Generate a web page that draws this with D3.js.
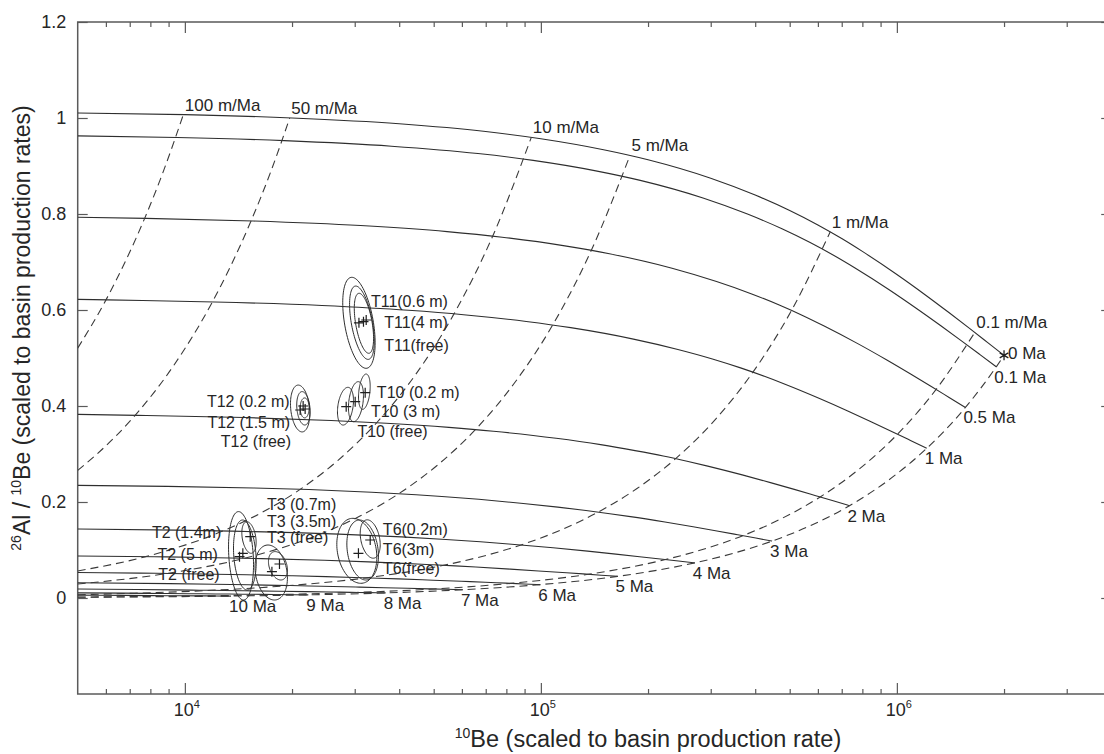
<!DOCTYPE html>
<html>
<head>
<meta charset="utf-8">
<script src="https://cdn.jsdelivr.net/npm/d3@7"></script>
<style>
  body { margin: 0; background: #fff; }
  svg text { font-family: "Liberation Sans", Arial, Helvetica, sans-serif; fill: #262626; }
</style>
</head>
<body>
<svg id="chart" width="1104" height="754"></svg>
<script>
// ---- axis ticks ----
const xMajorTicks = [1e4, 1e5, 1e6];
const xMajorExp = ["4", "5", "6"];
const xMinorTicks = [6e3, 7e3, 8e3, 9e3, 2e4, 3e4, 4e4, 5e4, 6e4, 7e4, 8e4, 9e4,
                     2e5, 3e5, 4e5, 5e5, 6e5, 7e5, 8e5, 9e5, 2e6, 3e6];
const yTicks = [0, 0.2, 0.4, 0.6, 0.8, 1, 1.2];
const yTickLabels = ["0", "0.2", "0.4", "0.6", "0.8", "1", "1.2"];

// ---- burial isochrons: [10Be, 26Al/10Be] ----
const isoLabels = ["0 Ma", "0.1 Ma", "0.5 Ma", "1 Ma", "2 Ma", "3 Ma", "4 Ma", "5 Ma", "6 Ma", "7 Ma", "8 Ma", "9 Ma", "10 Ma"];
const iso0 = [[5000,1.0105],[10000,1.007],[20000,1.000],[40000,0.988],[70000,0.9718],[100000,0.9569],[150000,0.934],[200000,0.9131],[300000,0.8746],[400000,0.8395],[500000,0.8073],[600000,0.7772],[700000,0.7489],[800000,0.7221],[1000000,0.674],[1200000,0.6319],[1400000,0.5947],[1600000,0.5617],[1800000,0.5321],[2000000,0.5055]];
const iso01 = [[5000,0.9627],[9512,0.9595],[19020,0.9528],[38050,0.9413],[66580,0.9259],[95120,0.9117],[142700,0.8899],[190200,0.870],[285400,0.8333],[380500,0.7998],[475600,0.7692],[570700,0.7405],[665800,0.7135],[761000,0.688],[951200,0.6422],[1141000,0.6021],[1332000,0.5666],[1522000,0.5352],[1712000,0.507],[1902000,0.4816]];
const iso05 = [[5000,0.7931],[7788,0.7909],[15580,0.7854],[31150,0.7759],[54520,0.7633],[77880,0.7516],[116800,0.7336],[155800,0.7172],[233600,0.687],[311500,0.6593],[389400,0.634],[467300,0.6104],[545200,0.5882],[623000,0.5671],[778800,0.5294],[934600,0.4963],[1090000,0.4671],[1246000,0.4412],[1402000,0.4179],[1558000,0.397]];
const iso1 = [[5000,0.6222],[6065,0.6211],[12130,0.6168],[24260,0.6094],[42460,0.5994],[60650,0.5902],[90980,0.5761],[121300,0.5632],[182000,0.5394],[242600,0.5178],[303300,0.498],[363900,0.4794],[424600,0.4619],[485200,0.4454],[606500,0.4157],[727800,0.3898],[849100,0.3668],[970400,0.3465],[1092000,0.3282],[1213000,0.3118]];
const iso2 = [[5000,0.3825],[7358,0.3805],[14720,0.376],[25750,0.3698],[36790,0.3641],[55180,0.3554],[73580,0.3474],[110400,0.3328],[147200,0.3195],[183900,0.3071],[220700,0.2959],[257500,0.285],[294300,0.2748],[367900,0.2565],[441500,0.2404],[515100,0.2263],[588600,0.2137],[662200,0.2025],[735800,0.1923]];
const iso3 = [[5000,0.2347],[8924,0.2326],[15620,0.2293],[22310,0.226],[33470,0.2204],[44620,0.2152],[66940,0.2056],[89240,0.197],[111600,0.1893],[133900,0.1822],[156200,0.1756],[178500,0.1695],[223100,0.1582],[267700,0.1483],[312300,0.1396],[357000,0.1318],[401600,0.1249],[446200,0.1186]];
const iso4 = [[5000,0.1437],[9471,0.1414],[13530,0.1394],[20300,0.1362],[27060,0.1331],[40590,0.1273],[54120,0.122],[67650,0.1171],[81180,0.1126],[94710,0.1084],[108200,0.1046],[135300,0.0976],[162400,0.0915],[189400,0.0861],[216500,0.0813],[243500,0.077],[270600,0.0732]];
const iso5 = [[5000,0.0876],[8209,0.086],[12310,0.084],[16420,0.0821],[24630,0.0785],[32840,0.0752],[41050,0.0722],[49250,0.0694],[57460,0.0669],[65670,0.0645],[82090,0.0602],[98510,0.0564],[114900,0.0531],[131300,0.0502],[147800,0.0475],[164200,0.0451]];
const iso6 = [[5000,0.053],[7469,0.0518],[9958,0.0506],[14940,0.0484],[19920,0.0464],[24900,0.0446],[29870,0.0428],[34850,0.0413],[39830,0.0398],[49790,0.0371],[59750,0.0348],[69710,0.0328],[79660,0.0309],[89620,0.0293],[99580,0.0279]];
const iso7 = [[5000,0.0317],[9060,0.0299],[12080,0.0286],[15100,0.0275],[18120,0.0264],[21140,0.0255],[24160,0.0246],[30200,0.0229],[36240,0.0215],[42280,0.0202],[48320,0.0191],[54360,0.0181],[60400,0.0172]];
const iso8 = [[5000,0.0187],[7328,0.0177],[9160,0.017],[10990,0.0163],[12820,0.0157],[14660,0.0152],[18320,0.0142],[21980,0.0133],[25650,0.0125],[29310,0.0118],[32980,0.0112],[36640,0.0106]];
const iso9 = [[5000,0.0107],[6666,0.0101],[7777,0.0097],[8888,0.0093],[11110,0.0087],[13330,0.0082],[15550,0.0077],[17780,0.0073],[20000,0.0069],[22220,0.0065]];
const iso10 = [[5000,0.0059],[6738,0.0054],[8086,0.005],[9433,0.0047],[10780,0.0045],[12130,0.0042],[13480,0.004]];
const isochrons = [iso0, iso01, iso05, iso1, iso2, iso3, iso4, iso5, iso6, iso7, iso8, iso9, iso10];

// ---- burial paths at constant pre-burial erosion rate ----
const erosionLabels = ["100 m/Ma", "50 m/Ma", "10 m/Ma", "5 m/Ma", "1 m/Ma", "0.1 m/Ma", ""];
const ero100 = [[9900,1.007],[8737,0.8924],[7710,0.7909],[6804,0.701],[6004,0.6211],[5000,0.5205]];
const ero50 = [[19700,1.000],[17390,0.8862],[15340,0.7854],[13540,0.6961],[11950,0.6168],[9306,0.4845],[7248,0.3805],[5644,0.2989],[5000,0.2659]];
const ero10 = [[94000,0.9596],[73210,0.7537],[57010,0.5919],[44410,0.4649],[34580,0.3651],[26930,0.2868],[20970,0.2252],[16340,0.177],[12720,0.1389],[7716,0.0857],[5000,0.0564]];
const ero5 = [[178000,0.9222],[138600,0.7243],[107960,0.5688],[84090,0.4468],[65490,0.3509],[51000,0.2756],[39710,0.2164],[30940,0.1701],[24080,0.1335],[14610,0.0823],[8863,0.0509],[5000,0.0292]];
const ero1 = [[650000,0.763],[506200,0.5993],[394200,0.4706],[307100,0.3697],[239100,0.2903],[186200,0.2281],[145000,0.1791],[113000,0.1407],[87950,0.1105],[53360,0.0681],[32360,0.042],[19630,0.0259],[11910,0.016],[7222,0.0099],[5000,0.0069]];
const ero01 = [[1655000,0.5532],[1289000,0.4345],[1004000,0.3412],[781800,0.268],[608900,0.2105],[474200,0.1654],[369200,0.1298],[287600,0.102],[223900,0.0801],[135900,0.0494],[82400,0.0305],[49980,0.0188],[30320,0.0116],[18390,0.0072],[11150,0.0044],[5000,0.002]];
const ero0 = [[2000000,0.5055],[1902000,0.4816],[1558000,0.397],[1213000,0.3118],[944800,0.2449],[735800,0.1923],[573000,0.1511],[446200,0.1186],[347600,0.0932],[270600,0.0732],[164200,0.0451],[99580,0.0279],[60400,0.0172],[36640,0.0106],[22220,0.0065],[13480,0.004],[5000,0.0015]];
const erosionPaths = [ero100, ero50, ero10, ero5, ero1, ero01, ero0];

// ---- samples: measured points [10Be, ratio] ----
const samplePoints = [
  [30830,0.5733],[31750,0.5756],[32310,0.5792],          // T11
  [28390,0.3985],[30090,0.409],[32100,0.4277],           // T10
  [21080,0.3917],[21490,0.400],[21770,0.3938],           // T12
  [14240,0.086],[14550,0.0931],[15260,0.1277],           // T2
  [17560,0.0548],[18440,0.0708],                         // T3
  [30730,0.0931],[33160,0.1208]                          // T6
];
// error ellipses: [10Be, ratio, log10 error, ratio error, correlation]
const sampleEllipses = [
  [30830,0.5733,0.0455,0.0948,-0.44],[31430,0.5735,0.0347,0.0764,-0.5],[31840,0.5723,0.0271,0.0625,-0.5],
  [28260,0.3996,0.0225,0.0393,0.3],[30240,0.409,0.0211,0.0417,0.3],[31930,0.4298,0.0164,0.0368,0.3],
  [21080,0.3948,0.0272,0.0488,-0.2],[21530,0.3952,0.0188,0.0348,-0.2],[21700,0.396,0.0126,0.0208,0],
  [14380,0.0879,0.0351,0.0921,-0.2],[14740,0.0896,0.0319,0.0729,-0.2],[15140,0.126,0.0201,0.0329,-0.3],
  [17480,0.0531,0.0455,0.0573,-0.2],[18260,0.0671,0.0267,0.0296,-0.3],
  [30410,0.0983,0.0562,0.0677,-0.2],[31580,0.100,0.0444,0.0625,-0.2],[33160,0.1229,0.0281,0.040,-0.3]
];
const sampleLabels = ["T11(0.6 m)", "T11(4 m)", "T11(free)",
                      "T10 (0.2 m)", "T10 (3 m)", "T10 (free)",
                      "T12 (0.2 m)", "T12 (1.5 m)", "T12 (free)",
                      "T2 (1.4m)", "T2 (5 m)", "T2 (free)",
                      "T3 (0.7m)", "T3 (3.5m)", "T3 (free)",
                      "T6(0.2m)", "T6(3m)", "T6(free)"];
// label anchors (text start, baseline) in data units
const sampleLabelAnchors = [
  [33310,0.6069],[36290,0.5619],[36290,0.5146],
  [34620,0.416],[33310,0.3777],[30530,0.336],
  [11530,0.3973],[11570,0.3535],[12620,0.314],
  [8080,0.1244],[8375,0.0792],[8420,0.0375],
  [17000,0.1833],[17000,0.1485],[17000,0.114],
  [35990,0.1313],[35990,0.0896],[35990,0.050]
];
const zeroErosionPoint = [2000000, 0.5055];

// ---- layout ----
const svg = d3.select("#chart");
const x = d3.scaleLog().domain([5000, 4e6]).range([77.7, 1111.2]);
const y = d3.scaleLinear().domain([-0.2, 1.2]).range([694, 22]);
const [x0, x1] = x.range();
const [yb, yt] = y.range();

svg.append("defs").append("clipPath").attr("id", "plotClip")
  .append("rect").attr("x", x0).attr("y", yt).attr("width", x1 - x0).attr("height", yb - yt);

const axisColor = "#5a5a5a";
function styleAxis(g) {
  g.select(".domain").remove();
  g.selectAll(".tick line").attr("stroke", axisColor).attr("stroke-width", 1.2);
  g.selectAll("text").remove();
}
// minor and major ticks on all four sides, pointing inward
svg.append("g").attr("transform", `translate(0,${yb})`)
  .call(d3.axisBottom(x).tickValues(xMinorTicks).tickSize(-5).tickFormat("")).call(styleAxis);
svg.append("g").attr("transform", `translate(0,${yb})`)
  .call(d3.axisBottom(x).tickValues(xMajorTicks).tickSize(-11).tickFormat("")).call(styleAxis);
svg.append("g").attr("transform", `translate(0,${yt})`)
  .call(d3.axisTop(x).tickValues(xMinorTicks).tickSize(-5).tickFormat("")).call(styleAxis);
svg.append("g").attr("transform", `translate(0,${yt})`)
  .call(d3.axisTop(x).tickValues(xMajorTicks).tickSize(-11).tickFormat("")).call(styleAxis);
svg.append("g").attr("transform", `translate(${x0},0)`)
  .call(d3.axisLeft(y).tickValues(yTicks).tickSize(-10).tickFormat("")).call(styleAxis);
svg.append("g").attr("transform", `translate(${x1},0)`)
  .call(d3.axisRight(y).tickValues(yTicks).tickSize(-10).tickFormat("")).call(styleAxis);

svg.append("rect").attr("x", x0).attr("y", yt).attr("width", x1 - x0).attr("height", yb - yt)
  .attr("fill", "none").attr("stroke", axisColor).attr("stroke-width", 1.5);

// y tick labels
svg.append("g").selectAll("text").data(yTicks).join("text")
  .attr("x", x0 - 11.5).attr("y", d => y(d)).attr("dy", "0.35em")
  .attr("text-anchor", "end").attr("font-size", 18)
  .text((d, i) => yTickLabels[i]);

// x tick labels as powers of ten
const xl = svg.append("g").selectAll("text").data(xMajorTicks).join("text")
  .attr("x", d => x(d) + 2).attr("y", 716).attr("text-anchor", "middle").attr("font-size", 18);
xl.append("tspan").text("10");
xl.append("tspan").attr("font-size", 11).attr("dy", -8).text((d, i) => xMajorExp[i]);

// axis titles
const xt = svg.append("text").attr("x", 648).attr("y", 747).attr("text-anchor", "middle").attr("font-size", 23.5);
xt.append("tspan").attr("font-size", 14).attr("dy", -9).text("10");
xt.append("tspan").attr("dy", 9).text("Be (scaled to basin production rate)");

const yTitle = svg.append("text").attr("transform", "translate(30,328) rotate(-90)")
  .attr("text-anchor", "middle").attr("font-size", 23);
yTitle.append("tspan").attr("font-size", 14).attr("dy", -9).text("26");
yTitle.append("tspan").attr("dy", 9).text("Al / ");
yTitle.append("tspan").attr("font-size", 14).attr("dy", -9).text("10");
yTitle.append("tspan").attr("dy", 9).text("Be (scaled to basin production rates)");

// ---- curves ----
const line = d3.line().x(d => x(d[0])).y(d => y(d[1])).curve(d3.curveMonotoneX);
const sorted = arr => arr.slice().sort((a, b) => a[0] - b[0]);
const plotG = svg.append("g").attr("clip-path", "url(#plotClip)");

plotG.selectAll("path.iso").data(isochrons).join("path").attr("class", "iso")
  .attr("d", d => line(sorted(d))).attr("fill", "none")
  .attr("stroke", "#2e2e2e").attr("stroke-width", 1.1);

plotG.selectAll("path.ero").data(erosionPaths).join("path").attr("class", "ero")
  .attr("d", d => line(sorted(d))).attr("fill", "none")
  .attr("stroke", "#3a3a3a").attr("stroke-width", 1.1).attr("stroke-dasharray", "8,5");

// error ellipses
const ell = d3.line().curve(d3.curveLinearClosed);
const thetas = d3.range(0, 2 * Math.PI, Math.PI / 48);
plotG.selectAll("path.ell").data(sampleEllipses).join("path").attr("class", "ell")
  .attr("d", ([be, r, dl, dr, rho]) => ell(thetas.map(t => [
    x(Math.pow(10, Math.log10(be) + dl * Math.cos(t))),
    y(r + dr * (rho * Math.cos(t) + Math.sqrt(1 - rho * rho) * Math.sin(t)))
  ]))).attr("fill", "none").attr("stroke", "#2e2e2e").attr("stroke-width", 1);

// measured points as crosses
plotG.selectAll("path.cross").data(samplePoints).join("path").attr("class", "cross")
  .attr("d", d => { const cx = x(d[0]), cy = y(d[1]);
    return `M${cx - 5},${cy}H${cx + 5}M${cx},${cy - 5}V${cy + 5}`; })
  .attr("stroke", "#1e1e1e").attr("stroke-width", 1.2);

// zero-erosion, zero-burial point
{
  const cx = x(zeroErosionPoint[0]), cy = y(zeroErosionPoint[1]);
  const arms = d3.range(3).map(i => {
    const a = Math.PI / 2 + i * Math.PI / 3, s = 5;
    return `M${cx - s * Math.cos(a)},${cy - s * Math.sin(a)}L${cx + s * Math.cos(a)},${cy + s * Math.sin(a)}`;
  }).join("");
  svg.append("path").attr("d", arms).attr("stroke", "#1e1e1e").attr("stroke-width", 1.3);
}

// ---- labels ----
// isochron labels at the zero-erosion end of each line
svg.append("g").selectAll("text").data(isochrons).join("text")
  .attr("x", (d, i) => { const e = d[d.length - 1]; return x(e[0]) + (i === 0 ? 4 : -2); })
  .attr("y", (d, i) => { const e = d[d.length - 1]; return y(e[1]) + (i === 0 ? 4 : 16); })
  .attr("font-size", 17).text((d, i) => isoLabels[i]);

// erosion-rate labels at the start of each burial path
svg.append("g").selectAll("text").data(erosionPaths.slice(0, 6)).join("text")
  .attr("x", d => x(d[0][0]) + 1.5).attr("y", d => y(d[0][1]) - 4)
  .attr("font-size", 17).text((d, i) => erosionLabels[i]);

// sample labels
svg.append("g").selectAll("text").data(sampleLabelAnchors).join("text")
  .attr("x", d => x(d[0])).attr("y", d => y(d[1]))
  .attr("font-size", 16).text((d, i) => sampleLabels[i]);
</script>
</body>
</html>
